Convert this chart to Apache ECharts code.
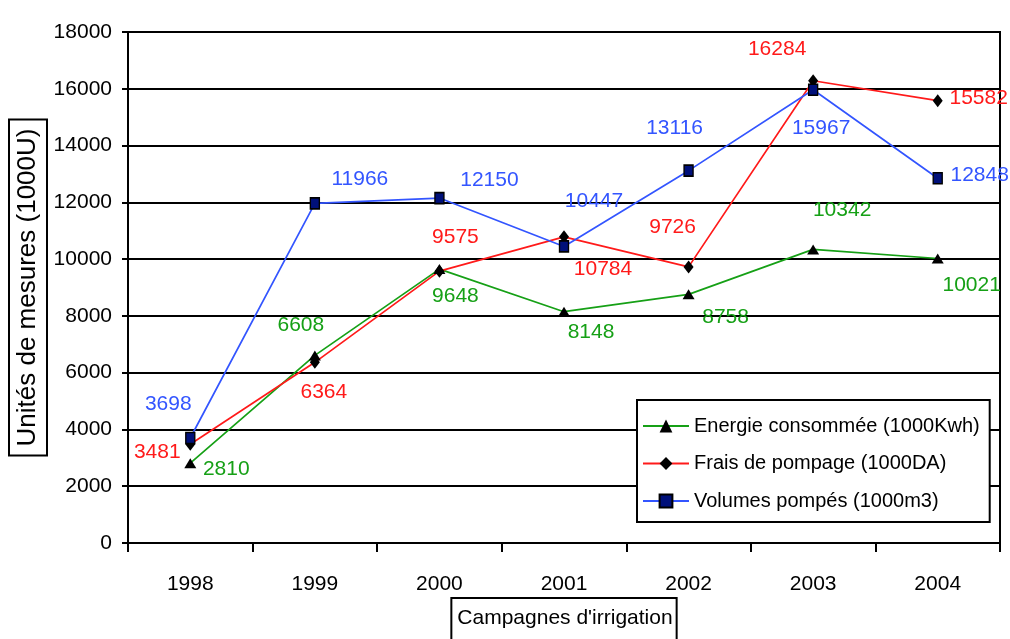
<!DOCTYPE html>
<html>
<head>
<meta charset="utf-8">
<script src="https://cdn.jsdelivr.net/npm/echarts@6/dist/echarts.min.js"></script>
<style>
  html, body { margin: 0; padding: 0; background: #fff; }
  #chart { width: 1010px; height: 639px; }
</style>
</head>
<body>
<div id="chart"></div>
<script>
// Campaign years and the three measured quantities
const years = ['1998', '1999', '2000', '2001', '2002', '2003', '2004'];
const energie = [2810, 6608, 9648, 8148, 8758, 10342, 10021];
const frais = [3481, 6364, 9575, 10784, 9726, 16284, 15582];
const volumes = [3698, 11966, 12150, 10447, 13116, 15967, 12848];

// Where each value label sits relative to its point (pixels)
const energieShift = [[36, 6], [-14, -30], [16, 27], [27, 21], [37, 23], [29, -39], [34, 27]];
const fraisShift = [[-33, 8], [9, 30], [16, -34], [39, 32], [-16, -40], [-36, -32], [41, -2]];
const volumesShift = [[-22, -34], [45, -24], [50, -18], [30, -45], [-14, -42], [8, 38], [42, -3]];

const FONT = "'Liberation Sans', Arial, sans-serif";

function withLabels(values, shifts) {
  return values.map((v, i) => ({ value: v, label: { offset: shifts[i] } }));
}

function lineSeries(name, values, shifts, color, symbol, symbolSize, itemStyle) {
  return {
    name: name,
    type: 'line',
    data: withLabels(values, shifts),
    symbol: symbol,
    symbolSize: symbolSize,
    showAllSymbol: true,
    lineStyle: { color: color, width: 1.7 },
    itemStyle: itemStyle,
    label: {
      show: true,
      position: 'inside',
      color: color,
      fontFamily: FONT,
      fontSize: 21,
      align: 'center',
      verticalAlign: 'middle'
    },
    emphasis: { disabled: true },
    animation: false
  };
}

const chart = echarts.init(document.getElementById('chart'), null, { renderer: 'canvas' });

chart.setOption({
  backgroundColor: '#fff',
  animation: false,
  grid: {
    left: 128, right: 10, top: 32, bottom: 96,
    containLabel: false,
    outerBoundsMode: 'none',
    show: true,
    borderColor: '#000',
    borderWidth: 2,
    backgroundColor: 'transparent'
  },
  legend: {
    orient: 'vertical',
    left: 637,
    top: 400,
    padding: [16, 10, 11, 5],
    itemWidth: 46,
    itemHeight: 16,
    itemGap: 17.5,
    backgroundColor: '#fff',
    borderColor: '#000',
    borderWidth: 2,
    textStyle: { fontFamily: FONT, fontSize: 20, color: '#000', lineHeight: 20 },
    data: ['Energie consommée (1000Kwh)', 'Frais de pompage (1000DA)', 'Volumes pompés (1000m3)']
  },
  xAxis: {
    type: 'category',
    data: years,
    boundaryGap: true,
    axisLine: { lineStyle: { color: '#000', width: 2 } },
    axisTick: { show: true, length: 9, lineStyle: { color: '#000', width: 2 } },
    axisLabel: { color: '#000', fontFamily: FONT, fontSize: 21, margin: 31 },
    splitLine: { show: false },
    name: "Campagnes d'irrigation",
    nameLocation: 'middle',
    nameGap: 55,
    nameMoveOverlap: false,
    nameTextStyle: {
      color: '#000', fontFamily: FONT, fontSize: 21,
      borderColor: '#000', borderWidth: 2, padding: [10, 4, 16, 6]
    }
  },
  yAxis: {
    type: 'value',
    min: 0,
    max: 18000,
    interval: 2000,
    axisLine: { show: true, lineStyle: { color: '#000', width: 2 } },
    axisTick: { show: true, length: 6, lineStyle: { color: '#000', width: 2 } },
    axisLabel: {
      color: '#000', fontFamily: FONT, fontSize: 21, margin: 16,
      formatter: (v) => String(v)
    },
    splitLine: { show: true, lineStyle: { color: '#000', width: 2 } },
    name: 'Unités de mesures (1000U)',
    nameLocation: 'middle',
    nameGap: 81,
    nameMoveOverlap: false,
    nameTextStyle: {
      color: '#000', fontFamily: FONT, fontSize: 26, lineHeight: 26,
      borderColor: '#000', borderWidth: 2, padding: [6, 9, 6, 9]
    }
  },
  series: [
    lineSeries('Energie consommée (1000Kwh)', energie, energieShift, '#16a016',
      'triangle', [12, 10], { color: '#000' }),
    lineSeries('Frais de pompage (1000DA)', frais, fraisShift, '#ff1a1a',
      'diamond', [10, 13], { color: '#000' }),
    lineSeries('Volumes pompés (1000m3)', volumes, volumesShift, '#3355ff',
      'rect', [9, 11], { color: '#00107a', borderColor: '#000', borderWidth: 1.5 })
  ]
});
</script>
</body>
</html>
